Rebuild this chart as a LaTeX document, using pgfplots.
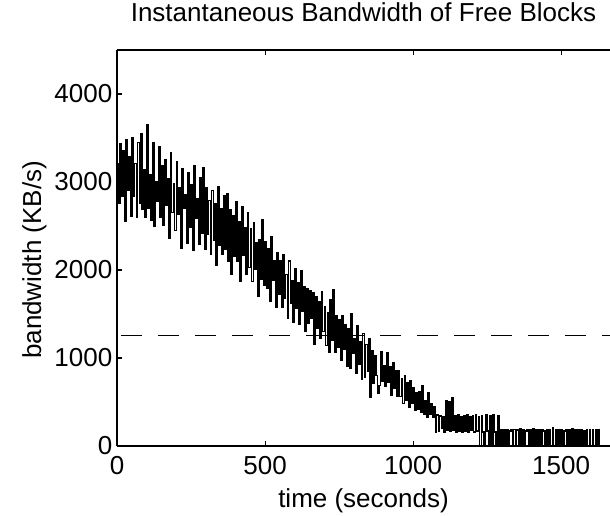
\documentclass[border=0pt]{standalone}
\usepackage{fontspec}
\setmainfont{Liberation Sans}
\usepackage{pgfplots}
\pgfplotsset{compat=1.18}
\usepackage{pgfplotstable}

\pgfplotstableread{
t y
0 3210
5 2760
10 3435
15 2835
20 3360
25 2550
30 3480
35 2910
40 3285
45 2610
50 3500
55 2835
60 3210
65 2600
70 3450
75 2760
80 3550
85 2685
90 3135
95 2600
100 3650
105 2700
110 3080
115 2560
120 3450
125 2500
130 3000
135 2780
140 3400
145 2600
150 3190
155 2510
160 3250
165 2740
170 3040
175 2360
180 3330
185 2650
190 2980
195 2450
200 3225
205 2630
210 2930
215 2250
220 3150
225 2700
230 2850
235 2300
240 3100
245 2480
250 2970
255 2220
260 3190
265 2590
270 2810
275 2290
280 3050
285 2420
290 3160
295 2240
300 2935
305 2400
310 2790
315 2180
320 2900
325 2340
330 2750
335 2050
340 2950
345 2280
350 2700
355 2180
360 2840
365 2230
370 2870
375 2100
380 2680
385 1950
390 2620
395 2160
400 2780
405 2100
410 2550
415 1870
420 2720
425 2170
430 2480
435 1950
440 2650
445 2030
450 2470
455 1870
460 2540
465 2010
470 2310
475 1700
480 2340
485 1890
490 2570
495 1830
500 2320
505 1790
510 2240
515 1640
520 2380
525 1880
530 2100
535 1580
540 2200
545 1720
550 2100
555 1580
560 2170
565 1680
570 1950
575 1450
580 2100
585 1620
590 1880
595 1400
600 2020
605 1560
610 1860
615 1380
620 1990
625 1530
630 1810
635 1300
640 1790
645 1390
650 1770
655 1450
660 1740
665 1150
670 1700
675 1340
680 1640
685 1220
690 1750
695 1300
700 1580
705 1140
710 1520
715 1060
720 1660
725 1200
730 1773
735 1060
740 1480
745 1120
750 1430
755 970
760 1480
765 1100
770 1380
775 900
780 1330
785 880
790 1500
795 1050
800 1215
805 830
810 1370
815 930
820 1180
825 760
830 1280
835 780
840 1150
845 850
850 1215
855 550
860 1080
865 710
870 1030
875 800
880 600
885 690
890 1070
895 730
900 910
905 680
910 1060
915 720
920 900
925 580
930 950
935 660
940 850
945 560
950 850
955 560
960 760
965 480
970 800
975 520
980 720
985 440
990 740
995 480
1000 660
1005 400
1010 600
1015 420
1020 620
1025 380
1030 690
1035 360
1040 520
1045 330
1050 600
1055 360
1060 480
1065 330
1070 450
1075 160
1080 350
1085 170
1090 340
1095 200
1100 330
1105 160
1110 520
1115 180
1120 500
1125 170
1130 550
1135 180
1140 340
1145 160
1150 350
1155 170
1160 330
1165 160
1170 340
1175 170
1180 350
1185 160
1190 330
1195 180
1200 340
1205 160
1210 350
1215 170
1220 330
1225 0
1230 340
1235 160
1240 0
1245 350
1250 170
1255 0
1260 340
1265 0
1270 350
1275 160
1280 0
1285 340
1290 0
1295 180
1300 0
1305 190
1310 0
1315 180
1320 0
1325 170
1330 180
1335 0
1340 190
1345 0
1350 180
1355 0
1360 200
1365 0
1370 180
1375 0
1380 170
1385 190
1390 0
1395 180
1400 0
1405 200
1410 0
1415 180
1420 0
1425 190
1430 0
1435 180
1440 170
1445 0
1450 190
1455 0
1460 180
1465 0
1470 210
1475 0
1480 180
1485 0
1490 190
1495 0
1500 180
1505 0
1510 170
1515 190
1520 0
1525 180
1530 0
1535 200
1540 0
1545 180
1550 0
1555 190
1560 0
1565 180
1570 0
1575 170
1580 0
1585 180
1590 0
1595 190
1600 0
1605 180
1610 0
1615 180
1620 0
1625 190
1630 0
}\bw

\begin{document}
\begin{tikzpicture}
\begin{axis}[
  name=ax,
  scale only axis,
  width=369.75pt, height=297pt,
  xmin=0, xmax=1665,
  ymin=0, ymax=4500,
  axis x line*=box,
  axis y line*=left,
  tick align=inside,
  axis line style={line width=1.1pt},
  major tick style={line width=0.8pt, black},
  major tick length=4pt,
  xtick={0,500,1000,1500},
  ytick={0,1000,2000,3000,4000},
  minor tick num=0,
  scaled ticks=false,
  /pgf/number format/1000 sep={},
  /pgf/number format/assume math mode=true,
  tick label style={font=\fontsize{19.5}{23}\selectfont},
  xticklabel style={yshift=-4pt},
  title={Instantaneous Bandwidth of Free Blocks},
  title style={font=\fontsize{19.5}{23}\selectfont, at={(axis description cs:0.5,1)}, anchor=base, yshift=15pt},
  xlabel={time (seconds)},
  xlabel style={font=\fontsize{19.5}{23}\selectfont, at={(axis description cs:0.5,0)}, anchor=base, yshift=-46.5pt},
  ylabel={bandwidth (KB/s)},
  ylabel style={font=\fontsize{19.5}{23}\selectfont, at={(axis description cs:-0.154,0.47)}, anchor=base},
]
\addplot[black, line width=1.05pt, no markers, const plot] table[x=t, y=y] {\bw};
\addplot[black, line width=0.9pt, no markers, dash pattern=on 15.75pt off 12pt, dash phase=24.75pt] coordinates {(0,1260) (1665,1260)};
\end{axis}
\pgfresetboundingbox
\path[use as bounding box] ([xshift=-87.75pt,yshift=-52.5pt]ax.south west) rectangle ([yshift=37.5pt]ax.north east);
\end{tikzpicture}
\end{document}
